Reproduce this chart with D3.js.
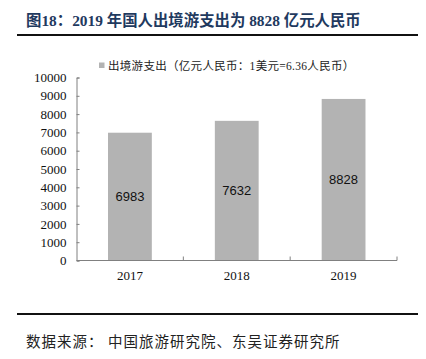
<!DOCTYPE html>
<html>
<head>
<meta charset="utf-8">
<script src="https://cdn.jsdelivr.net/npm/d3@7"></script>
<style>
  body { margin: 0; background: #fff; }
</style>
</head>
<body>
<div id="chart"></div>
<script>
(function () {
    var width = 426, height = 359;

    // data
    var years = ["2017", "2018", "2019"];
    var spending = [6983, 7632, 8828];
    var yTicks = [0, 1000, 2000, 3000, 4000, 5000, 6000, 7000, 8000, 9000, 10000];

    var titleText = "图18：2019 年国人出境游支出为 8828 亿元人民币";
    var legendText = "出境游支出（亿元人民币：1美元=6.36人民币）";
    var sourceText = "数据来源：  中国旅游研究院、东吴证券研究所";

    var serif = "'Liberation Serif', 'Times New Roman', 'Noto Sans CJK SC', serif";
    var sans = "'Liberation Sans', Arial, sans-serif";
    var cjk = "'Liberation Serif', 'Noto Sans CJK SC', serif";

    var svg = d3.select("#chart")
        .append("svg")
        .attr("width", width)
        .attr("height", height);

    // title + rules
    svg.append("text")
        .attr("x", 26)
        .attr("y", 26)
        .attr("font-family", cjk)
        .attr("font-weight", "bold")
        .attr("font-size", 15.4)
        .attr("fill", "#1f3a5f")
        .text(titleText);

    svg.append("line")
        .attr("x1", 17).attr("x2", 418)
        .attr("y1", 35).attr("y2", 35)
        .attr("stroke", "#111").attr("stroke-width", 2);

    svg.append("line")
        .attr("x1", 17).attr("x2", 418)
        .attr("y1", 314).attr("y2", 314)
        .attr("stroke", "#111").attr("stroke-width", 2);

    svg.append("text")
        .attr("x", 26)
        .attr("y", 347)
        .attr("font-family", cjk)
        .attr("font-size", 14.5)
        .attr("letter-spacing", 1)
        .attr("fill", "#222")
        .text(sourceText);

    // scales
    var x = d3.scaleBand().domain(years).range([76.5, 397]).paddingInner(0.59).paddingOuter(0.295);
    var y = d3.scaleLinear().domain([0, 10000]).range([260.5, 77.5]);

    // legend
    svg.append("rect")
        .attr("x", 99).attr("y", 62.5)
        .attr("width", 5.5).attr("height", 5.5)
        .attr("fill", "#b3b3b3");
    svg.append("text")
        .attr("x", 108)
        .attr("y", 70)
        .attr("font-family", cjk)
        .attr("font-size", 11.5)
        .attr("letter-spacing", 0.3)
        .attr("fill", "#222")
        .text(legendText);

    // bars
    svg.selectAll(".bar")
        .data(spending)
        .enter().append("rect")
        .attr("class", "bar")
        .attr("x", function (d, i) { return x(years[i]); })
        .attr("width", x.bandwidth())
        .attr("y", function (d) { return y(d); })
        .attr("height", function (d) { return y(0) - y(d); })
        .attr("fill", "#b3b3b3");

    svg.selectAll(".val")
        .data(spending)
        .enter().append("text")
        .attr("class", "val")
        .attr("x", function (d, i) { return x(years[i]) + x.bandwidth() / 2; })
        .attr("y", function (d) { return (y(d) + y(0)) / 2; })
        .attr("dy", "0.36em")
        .attr("text-anchor", "middle")
        .attr("font-family", sans)
        .attr("font-size", 13)
        .attr("fill", "#111")
        .text(function (d) { return d; });

    // y axis
    var yAxis = svg.append("g")
        .attr("transform", "translate(76.5,0)")
        .call(d3.axisRight(y).tickValues(yTicks).tickSize(3).tickFormat(d3.format("d")));
    yAxis.select(".domain").attr("stroke", "#808080");
    yAxis.selectAll(".tick line").attr("stroke", "#808080");
    yAxis.selectAll(".tick text")
        .attr("x", -10)
        .attr("text-anchor", "end")
        .attr("font-family", serif)
        .attr("font-size", 13)
        .attr("fill", "#111");

    // x axis: ticks at category boundaries, pointing up
    var xAxis = svg.append("g")
        .attr("transform", "translate(0," + y(0) + ")");
    xAxis.append("line")
        .attr("x1", 76.5).attr("x2", 397)
        .attr("stroke", "#808080");
    var step = x.step();
    xAxis.selectAll(".xt")
        .data(years)
        .enter().append("line")
        .attr("class", "xt")
        .attr("x1", function (d) { return x(d) + x.bandwidth() / 2 + step / 2; })
        .attr("x2", function (d) { return x(d) + x.bandwidth() / 2 + step / 2; })
        .attr("y1", 0).attr("y2", -4)
        .attr("stroke", "#808080");
    xAxis.selectAll(".xl")
        .data(years)
        .enter().append("text")
        .attr("class", "xl")
        .attr("x", function (d) { return x(d) + x.bandwidth() / 2; })
        .attr("y", 19.5)
        .attr("text-anchor", "middle")
        .attr("font-family", serif)
        .attr("font-size", 13)
        .attr("fill", "#111")
        .text(function (d) { return d; });
})();
</script>
</body>
</html>
